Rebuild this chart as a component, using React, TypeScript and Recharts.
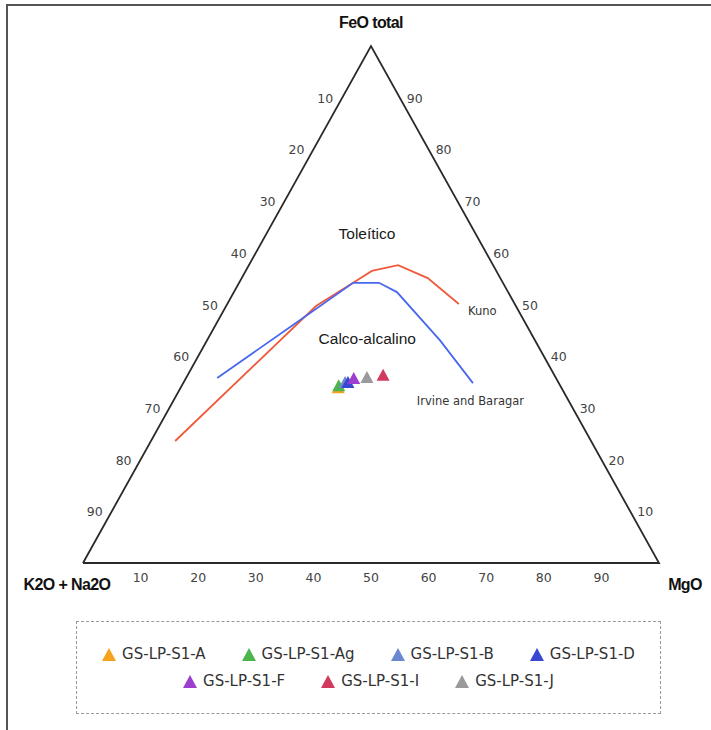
import { ScatterChart, Scatter, XAxis, YAxis } from "recharts";

// ternary values in % (alkalis, FeO total, MgO)
const sampleNames = ["GS-LP-S1-A", "GS-LP-S1-Ag", "GS-LP-S1-B", "GS-LP-S1-D", "GS-LP-S1-F", "GS-LP-S1-I", "GS-LP-S1-J"];
const sampleColors = ["#F7A21B", "#4CB64C", "#6A88D2", "#3848D0", "#9C3FCF", "#D03A5E", "#9A9A9A"];
const sampleAlk = [38.8, 38.5, 37.1, 36.6, 35.2, 29.8, 32.8];
const sampleFeO = [33.8, 34.2, 34.8, 34.8, 35.6, 36.2, 35.8];
const sampleMgO = [27.4, 27.3, 28.1, 28.6, 29.2, 34.0, 31.4];

const kunoAlk = [72.2, 34.7, 26.0, 21.6, 16.5, 12.6, 9.7];
const kunoFeO = [23.6, 49.7, 54.2, 56.5, 57.6, 55.1, 50.1];
const kunoMgO = [4.2, 15.6, 19.8, 21.9, 25.9, 32.3, 40.2];

const irvineAlk = [58.8, 38.8, 26.0, 21.5, 19.3, 16.5, 14.9];
const irvineFeO = [35.8, 47.0, 54.2, 54.2, 52.4, 43.1, 34.8];
const irvineMgO = [5.4, 14.2, 19.8, 24.3, 28.3, 40.4, 50.3];

const tickValues = [10, 20, 30, 40, 50, 60, 70, 80, 90];

const regionLabels = ["Toleítico", "Calco-alcalino"];
const regionAlk = [18.8, 28.9];
const regionFeO = [63.8, 43.5];
const regionMgO = [17.4, 27.6];

const curveLabels = ["Kuno", "Irvine and Baragar"];
const curveLabelAlk = [8.8, 26.4];
const curveLabelFeO = [48.7, 31.3];
const curveLabelMgO = [42.5, 42.3];

const apexLabels = ["K2O + Na2O", "FeO total", "MgO"];

const toXY = (a: number, f: number, m: number) => {
  const s = a + f + m;
  return { x: ((m + f / 2) / s) * 100, y: (f / s) * 100 };
};

const outline = [toXY(100, 0, 0), toXY(0, 0, 100), toXY(0, 100, 0), toXY(100, 0, 0)];
const kuno = kunoAlk.map((a, i) => toXY(a, kunoFeO[i], kunoMgO[i]));
const irvine = irvineAlk.map((a, i) => toXY(a, irvineFeO[i], irvineMgO[i]));

const leftTicks = tickValues.map((v) => ({ ...toXY(v, 100 - v, 0), label: v }));
const rightTicks = tickValues.map((v) => ({ ...toXY(0, v, 100 - v), label: v }));
const bottomTicks = tickValues.map((v) => ({ ...toXY(100 - v, 0, v), label: v }));

const apexes = [
  { ...toXY(100, 0, 0), label: apexLabels[0], dx: -16, dy: 27 },
  { ...toXY(0, 100, 0), label: apexLabels[1], dx: 0, dy: -18 },
  { ...toXY(0, 0, 100), label: apexLabels[2], dx: 26, dy: 27 },
];
const regions = regionLabels.map((t, i) => ({ ...toXY(regionAlk[i], regionFeO[i], regionMgO[i]), label: t }));
const curveNotes = curveLabels.map((t, i) => ({ ...toXY(curveLabelAlk[i], curveLabelFeO[i], curveLabelMgO[i]), label: t }));

const tickFont = "'DejaVu Sans', sans-serif";
const titleFont = "'Liberation Sans Narrow', 'Liberation Sans', Arial, sans-serif";

const noDot = () => <g />;

const tickText = (dx: number, dy: number) => (p: any) => (
  <text x={p.cx + dx} y={p.cy + dy} textAnchor="middle" fontFamily={tickFont} fontSize={12.5} fill="#444">
    {p.payload.label}
  </text>
);

const apexText = (p: any) => (
  <text
    x={p.cx + p.payload.dx}
    y={p.cy + p.payload.dy}
    textAnchor="middle"
    fontFamily={titleFont}
    fontWeight="bold"
    fontSize={16}
    letterSpacing={-0.6}
    fill="#111"
  >
    {p.payload.label}
  </text>
);

const regionText = (p: any) => (
  <text x={p.cx} y={p.cy + 6} textAnchor="middle" fontFamily="'Liberation Sans', Arial, sans-serif" fontSize={15.5} fill="#1a1a1a">
    {p.payload.label}
  </text>
);

const noteText = (p: any) => (
  <text x={p.cx} y={p.cy + 4} textAnchor="start" fontFamily={tickFont} fontSize={11.5} fill="#333">
    {p.payload.label}
  </text>
);

const triangle = (p: any) => (
  <path d={`M${p.cx},${p.cy - 7} L${p.cx + 6.5},${p.cy + 5} L${p.cx - 6.5},${p.cy + 5} Z`} fill={p.fill} />
);

function SampleLegend() {
  return (
    <div
      style={{
        position: "absolute",
        left: 76,
        top: 621,
        boxSizing: "border-box",
        width: 585,
        height: 93,
        border: "1px dashed #9a9a9a",
        display: "flex",
        flexWrap: "wrap",
        justifyContent: "center",
        alignContent: "center",
        columnGap: 36,
        rowGap: 9,
        padding: "0 10px",
      }}
    >
      {sampleNames.map((name, i) => (
        <div key={name} style={{ display: "flex", alignItems: "center", gap: 6 }}>
          <svg width={14} height={13}>
            <path d="M7,0 L14,13 L0,13 Z" fill={sampleColors[i]} />
          </svg>
          <span style={{ fontFamily: tickFont, fontSize: 15, color: "#333" }}>{name}</span>
        </div>
      ))}
    </div>
  );
}

export default function App() {
  return (
    <div style={{ position: "absolute", left: 0, top: 0, width: 711, height: 730, overflow: "hidden", background: "#fff" }}>
      <div style={{ position: "absolute", left: 6, top: 4, width: 720, height: 740, borderTop: "2px solid #555", borderLeft: "2px solid #555" }} />
      <ScatterChart width={711} height={730} margin={{ top: 46, right: 52, bottom: 167, left: 83 }}>
        <XAxis type="number" dataKey="x" domain={[0, 100]} hide />
        <YAxis type="number" dataKey="y" domain={[0, 100]} hide />
        <Scatter data={outline} line={{ stroke: "#2a2a2a", strokeWidth: 1.8 }} shape={noDot} isAnimationActive={false} />
        <Scatter data={kuno} line={{ stroke: "#F05A3C", strokeWidth: 1.8 }} shape={noDot} isAnimationActive={false} />
        <Scatter data={irvine} line={{ stroke: "#4A68EE", strokeWidth: 1.8 }} shape={noDot} isAnimationActive={false} />
        <Scatter data={leftTicks} shape={tickText(-17, 5)} isAnimationActive={false} />
        <Scatter data={rightTicks} shape={tickText(15, 5)} isAnimationActive={false} />
        <Scatter data={bottomTicks} shape={tickText(0, 19)} isAnimationActive={false} />
        <Scatter data={apexes} shape={apexText} isAnimationActive={false} />
        <Scatter data={regions} shape={regionText} isAnimationActive={false} />
        <Scatter data={curveNotes} shape={noteText} isAnimationActive={false} />
        {sampleNames.map((name, i) => (
          <Scatter
            key={name}
            name={name}
            data={[toXY(sampleAlk[i], sampleFeO[i], sampleMgO[i])]}
            fill={sampleColors[i]}
            shape={triangle}
            isAnimationActive={false}
          />
        ))}
      </ScatterChart>
      <SampleLegend />
    </div>
  );
}
